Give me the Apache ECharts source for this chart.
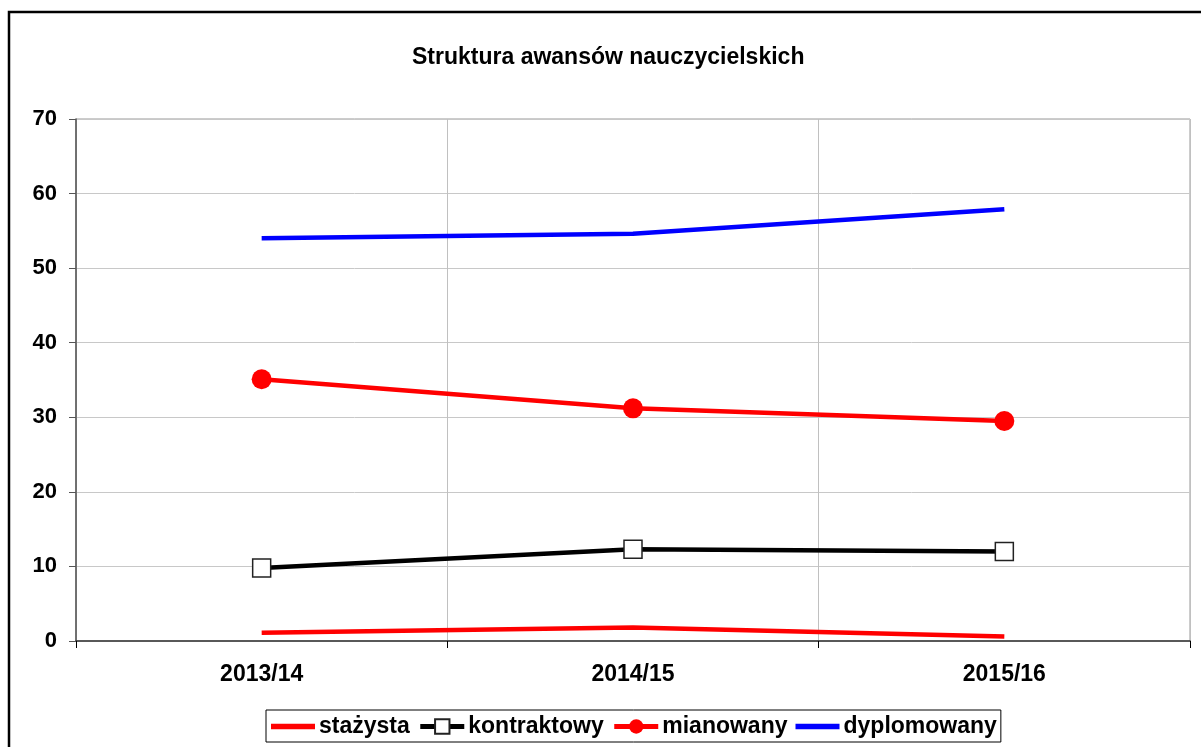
<!DOCTYPE html>
<html>
<head>
<meta charset="utf-8">
<script src="https://cdn.jsdelivr.net/npm/echarts@6/dist/echarts.min.js"></script>
<style>
  html, body { margin: 0; padding: 0; background: #fff; }
  #chart { width: 1201px; height: 747px; }
</style>
</head>
<body>
<div id="chart"></div>
<script>
const categories = ['2013/14', '2014/15', '2015/16']
const stazysta = [1.1, 1.8, 0.6]
const kontraktowy = [9.8, 12.3, 12.0]
const mianowany = [35.1, 31.2, 29.5]
const dyplomowany = [54.0, 54.6, 57.9]

const font = 'Liberation Sans, Arial, sans-serif'
const chart = echarts.init(document.getElementById('chart'))
const plainLine = 'path://M0,0H40V5H0Z'

function line(name, data, color, symbol, symbolSize, fill) {
  return {
    name, type: 'line', data,
    symbol, symbolSize, showSymbol: symbol !== 'none',
    lineStyle: { color, width: 4.5 },
    itemStyle: { color: fill, borderColor: symbol === 'rect' ? '#222' : fill, borderWidth: symbol === 'rect' ? 1.5 : 0 },
    z: 3,
  }
}

chart.setOption({
  animation: false,
  graphic: [{
    type: 'rect', shape: { x: 9, y: 12, width: 1200, height: 800 },
    style: { fill: 'none', stroke: '#000', lineWidth: 2.5 }, silent: true,
  }],
  title: {
    text: 'Struktura awansów nauczycielskich',
    left: 407, top: 41,
    textStyle: { fontFamily: font, fontSize: 23, fontWeight: 'bold', color: '#000' },
  },
  legend: {
    bottom: 5, left: 266,
    data: [
      { name: 'stażysta', icon: plainLine },
      { name: 'kontraktowy' },
      { name: 'mianowany' },
      { name: 'dyplomowany', icon: plainLine },
    ],
    borderColor: '#000', borderWidth: 1, borderRadius: 0,
    padding: [5, 4, 4, 5],
    itemWidth: 44, itemHeight: 18, itemGap: 8,
    lineStyle: { width: 5 },
    textStyle: { fontFamily: font, fontSize: 23, fontWeight: 'bold', color: '#000', padding: [0, 0, 0, -1] },
  },
  grid: { left: 76, right: 11, top: 119, bottom: 106, show: true, borderColor: '#999', borderWidth: 1 },
  xAxis: {
    type: 'category', data: categories, boundaryGap: true,
    axisLine: { lineStyle: { color: '#333', width: 1.5 } },
    axisTick: { show: true, length: 7, lineStyle: { color: '#000' } },
    splitLine: { show: true, lineStyle: { color: '#c0c0c0' } },
    axisLabel: { fontFamily: font, fontSize: 23, fontWeight: 'bold', color: '#000', margin: 22 },
  },
  yAxis: {
    type: 'value', min: 0, max: 70, interval: 10,
    axisLine: { show: true, lineStyle: { color: '#555', width: 1.5 } },
    axisTick: { show: true, length: 7, lineStyle: { color: '#555' } },
    splitLine: { lineStyle: { color: '#c8c8c8' } },
    axisLabel: { fontFamily: font, fontSize: 22, fontWeight: 'bold', color: '#000', margin: 19 },
  },
  series: [
    line('stażysta', stazysta, '#ff0000', 'none', 0, '#ff0000'),
    line('kontraktowy', kontraktowy, '#000000', 'rect', 18, '#ffffff'),
    line('mianowany', mianowany, '#ff0000', 'circle', 20, '#ff0000'),
    line('dyplomowany', dyplomowany, '#0000ff', 'none', 0, '#0000ff'),
  ],
})
</script>
</body>
</html>
